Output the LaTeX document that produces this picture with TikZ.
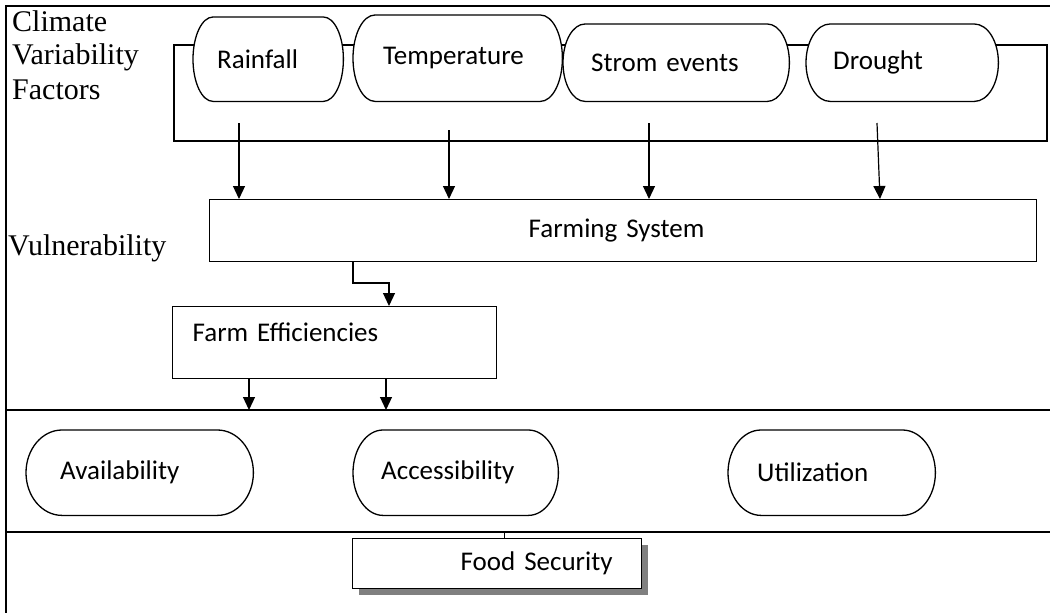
\documentclass[tikz,border=0pt]{standalone}
\usepackage{fontspec}
\setmainfont{Liberation Serif}
\newfontfamily\calib{Carlito}
\usetikzlibrary{arrows.meta,shadows,calc}
\pgfdeclarelayer{bglayer}
\pgfdeclarelayer{midlayer}
\pgfsetlayers{bglayer,midlayer,main}
\begin{document}
\begin{tikzpicture}[x=1pt,y=-1pt,
  cal/.style={font=\calib\fontsize{27}{32}\selectfont},
  pilln/.style={cal, inner ysep=0pt, anchor=north west, align=left},
  pillshape/.style={draw, fill=white, line width=1.3pt},
  box/.style={cal, draw, fill=white, line width=1.3pt, inner ysep=0pt, anchor=north west},
  arr/.style={line width=1.2pt, -{Triangle[width=12pt,length=13pt]}},
  lbl/.style={font=\fontsize{30}{34}\selectfont, inner sep=0pt, anchor=base west},
  sep/.style={line width=1.5pt},
  border/.style={line width=2.2pt}
]
\useasboundingbox (0,0) rectangle (1050,613);
\begin{pgfonlayer}{bglayer}
\fill[white] (0,0) rectangle (1050,613);
\end{pgfonlayer}

% borders and separators
\coordinate (tl) at (6,6);
\coordinate (tr) at (1050,6);
\coordinate (bl) at (6,613);
\draw[border] (tr) -- (tl) -- (bl);
\coordinate (s1l) at (6,410);
\coordinate (s1r) at (1050,410);
\coordinate (s2l) at (6,532);
\coordinate (s2r) at (1050,532);
\draw[sep] (s1l) -- (s1r);
\draw[sep] (s2l) -- (s2r);

% left labels
\node[lbl] (clim1) at (12,31) {Climate};
\node[lbl] (clim2) at (12,64) {Variability};
\node[lbl] (clim3) at (12,99) {Factors};
\node[lbl] (vuln) at (8,255) {Vulnerability};

% climate frame
\begin{pgfonlayer}{bglayer}
\node[draw, line width=1.5pt, anchor=north west, minimum width=873pt,
      minimum height=96pt, inner sep=0pt] (cbox) at (173,44) {};
\end{pgfonlayer}

% pills (text nodes)
\node[pilln, text width=102pt, inner xsep=24pt, minimum height=84pt] (rain) at (193,17) {Rainfall};
\node[pilln, text width=149pt, inner xsep=30pt, minimum height=86pt] (temp) at (353,15) {Temperature};
\node[pilln, text width=170pt, inner xsep=28pt, minimum height=77pt] (strom) at (563,24) {Strom events};
\node[pilln, text width=138pt, inner xsep=27pt, minimum height=77pt] (drought) at (806,24) {Drought};
\node[pilln, text width=159pt, inner xsep=34pt, minimum height=85pt] (avail) at (26,430) {Availability};
\node[pilln, text width=149pt, inner xsep=28pt, minimum height=85pt] (access) at (353,430) {Accessibility};
\node[pilln, text width=149pt, inner xsep=29pt, minimum height=85pt] (util) at (728,430) {Utilization};

% pill outlines
\begin{pgfonlayer}{midlayer}
\foreach \s/\r in {rain/20,temp/22,strom/22,drought/24,avail/36,access/30,util/33}{
  \draw[pillshape] let \p1=(\s.north west), \p2=(\s.south east), \n1={(\y1-\y2)/2} in
    (\x1+\r pt,\y1) -- (\x2-\r pt,\y1)
    arc[start angle=90, end angle=-90, x radius=\r pt, y radius=\n1]
    -- (\x1+\r pt,\y2)
    arc[start angle=270, end angle=90, x radius=\r pt, y radius=\n1] -- cycle;
}
\end{pgfonlayer}

% boxes
\node[box, minimum height=62pt, text width=189pt, inner xsep=319pt, align=left] (farm) at (209,199) {Farming System};
\node[box, minimum height=72pt, text width=284pt, inner xsep=20pt, align=left,
      text height=19pt, text depth=22pt] (fe) at (172,306) {Farm Efficiencies};
\node[box, minimum height=50pt, text width=231pt, inner xsep=29pt, align=right,
      drop shadow={shadow xshift=6pt, shadow yshift=-6pt, fill=black!50, opacity=1}] (fs) at (352,538) {Food Security};

% arrows climate -> farming system
\coordinate (a1) at (239,123);
\coordinate (a2) at (449,130);
\coordinate (a3) at (649,123);
\coordinate (a4) at (877,123);
\draw[arr] (a1) -- (a1 |- farm.north);
\draw[arr] (a2) -- (a2 |- farm.north);
\draw[arr] (a3) -- (a3 |- farm.north);
\draw[arr] (a4) -- ([xshift=3pt]a4 |- farm.north);

% elbow farming system -> farm efficiencies
\coordinate (e1) at (353,283);
\coordinate (e2) at (389,283);
\draw[arr] (farm.south -| e1) -- (e1) -- (e2) -- (e2 |- fe.north);

% farm efficiencies -> food security pillars
\coordinate (b1) at (249,410);
\coordinate (b2) at (386,410);
\draw[arr] (fe.south -| b1) -- (b1);
\draw[arr] (fe.south -| b2) -- (b2);

% connector to food security
\coordinate (c1) at (504,532);
\draw[line width=1pt] (c1) -- (c1 |- fs.north);
\end{tikzpicture}
\end{document}
